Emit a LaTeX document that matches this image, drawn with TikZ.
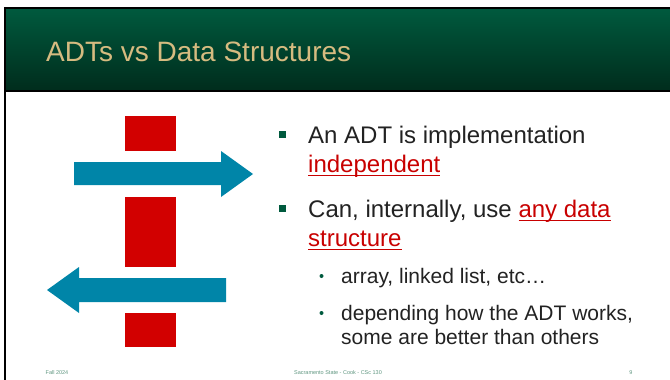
\documentclass[tikz,border=0pt]{standalone}
\usepackage{fontspec}
\setmainfont{Liberation Sans}

\definecolor{hdrtop}{RGB}{0,90,62}
\definecolor{hdrbot}{RGB}{0,44,28}
\definecolor{gold}{RGB}{214,187,128}
\definecolor{adtred}{RGB}{200,0,0}
\definecolor{blockred}{RGB}{210,0,0}
\definecolor{flowblue}{RGB}{0,133,168}
\definecolor{txt}{RGB}{34,34,34}
\definecolor{bul}{RGB}{0,90,62}
\definecolor{foot}{RGB}{95,150,128}

% red underlined words
\newcommand{\redul}[1]{\textcolor{adtred}{\setbox0\hbox{#1}\rlap{\rule[-4.4pt]{\wd0}{1.4pt}}\box0}}

\begin{document}
\begin{tikzpicture}[x=1pt, y=-1pt,
    body/.style={anchor=base west, inner sep=0pt, text=txt, font=\fontsize{24}{29}\selectfont},
    sub/.style={anchor=base west, inner sep=0pt, text=txt, font=\fontsize{21}{24}\selectfont},
    foot/.style={anchor=base, inner sep=0pt, text=foot, font=\fontsize{5.5}{6}\selectfont},
    block/.style={fill=blockred},
    flow/.style={fill=flowblue}]
  \useasboundingbox (0,0) rectangle (670,380);
  % header band
  \shade[top color=hdrtop, bottom color=hdrbot] (4,8) rectangle (670,91);
  \draw[line width=1.5pt] (4,8) -- (670,8);
  \draw[line width=1.2pt] (4,91) -- (670,91);
  \draw[line width=2pt] (5,7.5) -- (5,380);
  \node[anchor=base west, inner sep=0pt, text=gold, font=\fontsize{28}{32}\selectfont] (title) at (46,61) {ADTs vs Data Structures};

  % blocks and arrows
  \fill[block] (125,116) rectangle (176,151);
  \fill[block] (125,197) rectangle (176,267);
  \fill[block] (125,313) rectangle (176,347);
  \fill[flow] (74,162) -- (221,162) -- (221,151) -- (253,174) -- (221,197) -- (221,185) -- (74,185) -- cycle;
  \fill[flow] (226,278) -- (79,278) -- (79,267) -- (47,290) -- (79,313) -- (79,302) -- (226,302) -- cycle;

  % bullets
  \fill[bul] (279,131) rectangle ++(7,7);
  \fill[bul] (279,205) rectangle ++(7,7);
  \fill[bul] (321.5,276) circle (2);
  \fill[bul] (321.5,313) circle (2);
  \node[body] (ln1) at (308,143) {An ADT is implementation};
  \node[body] (ln2) at (308,172) {\redul{independent}};
  \node[body] (ln3) at (308,217) {Can, internally, use \redul{any data}};
  \node[body] (ln4) at (308,246) {\redul{structure}};
  \node[sub] (ln5) at (341,283) {array, linked list, etc…};
  \node[sub] (ln6) at (341,320) {depending how the ADT works,};
  \node[sub] (ln7) at (341,344) {some are better than others};

  % footer
  \node[foot] (date) at (57,374) {Fall 2024};
  \node[foot] (course) at (338,374) {Sacramento State - Cook - CSc 130};
  \node[foot] (page) at (631,374) {9};
\end{tikzpicture}
\end{document}
